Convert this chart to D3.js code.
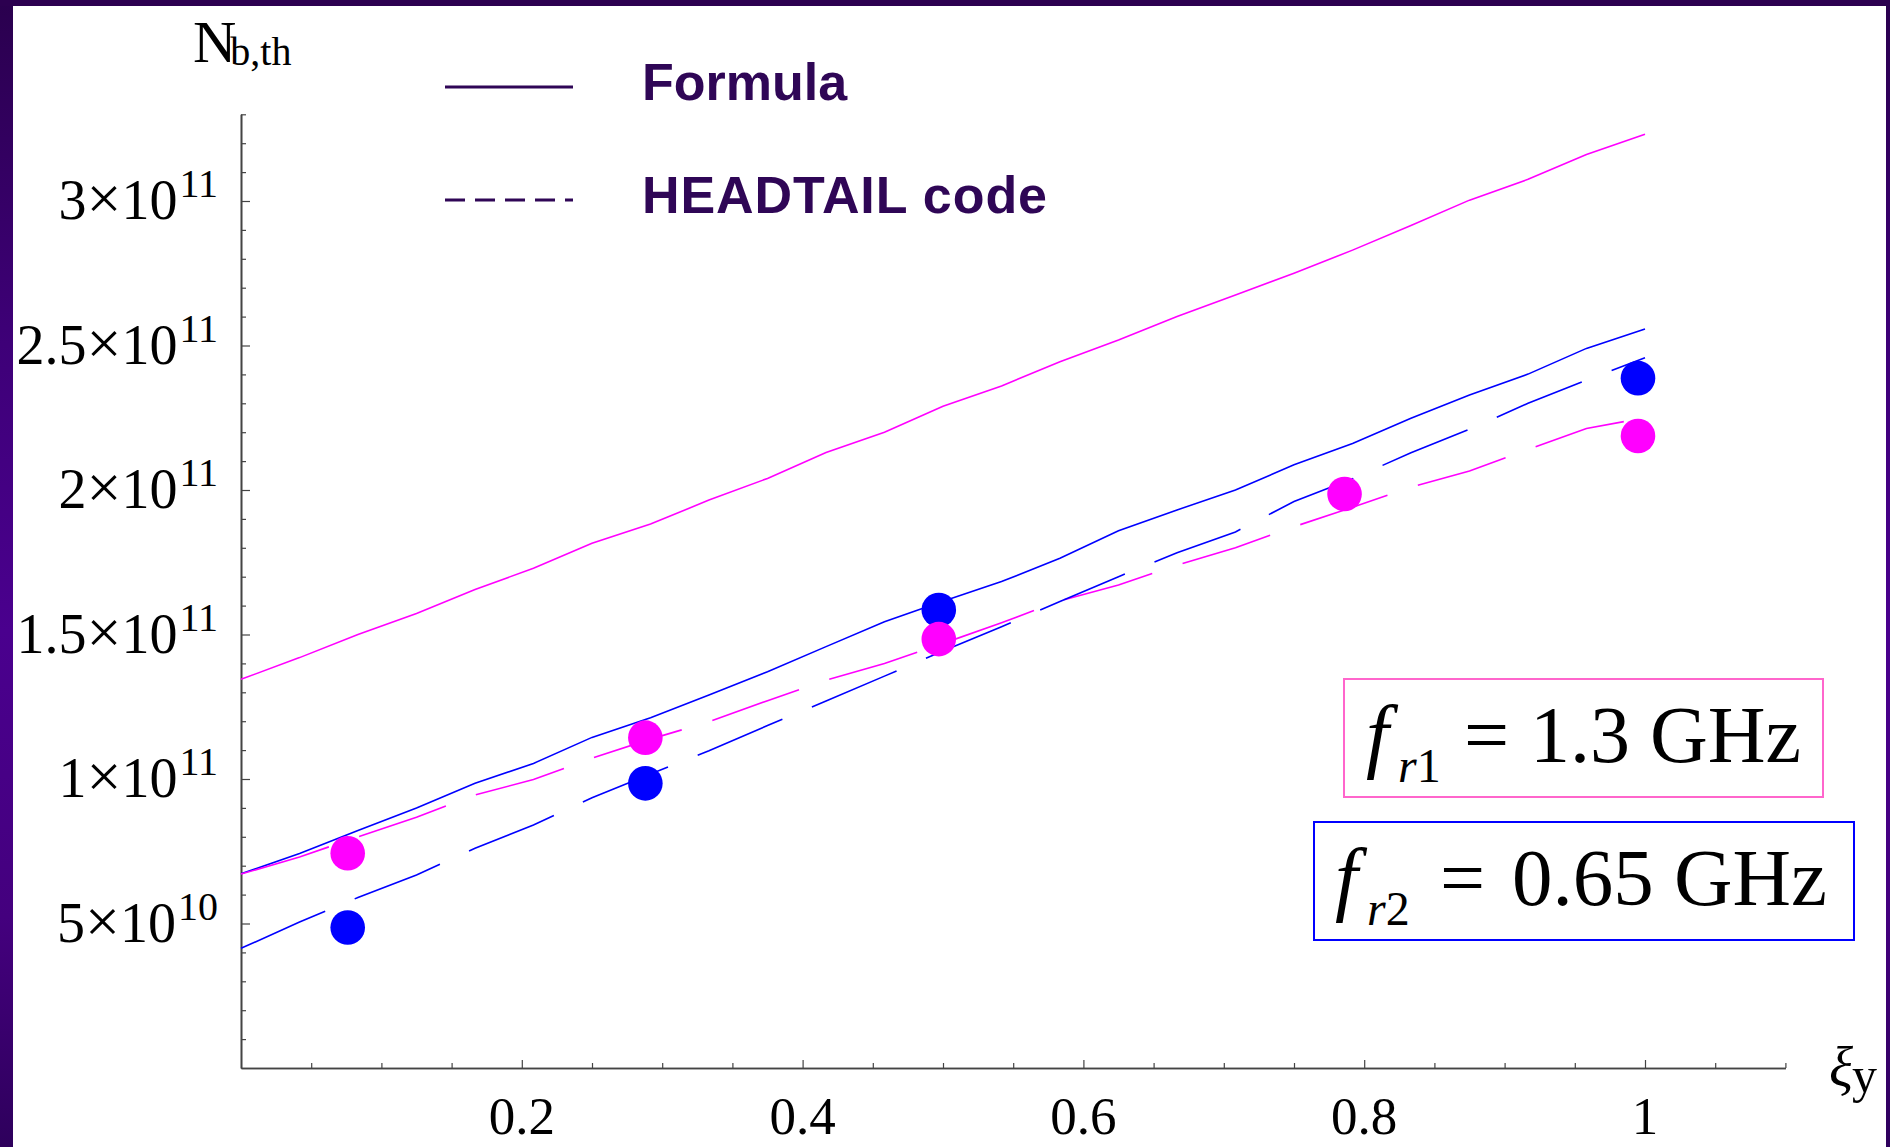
<!DOCTYPE html>
<html><head><meta charset="utf-8">
<script src="https://cdn.jsdelivr.net/npm/d3@7"></script>
<style>html,body{margin:0;padding:0;background:#fff;overflow:hidden}</style>
</head><body>
<svg id="c" width="1890" height="1147"></svg>
<script>
// ---------- data (N values in units of 1e11) ----------
const xiGrid = [0,0.0417,0.0833,0.125,0.1667,0.2083,0.25,0.2917,0.3333,0.375,0.4167,0.4583,0.5,0.5417,0.5833,0.625,0.6667,0.7083,0.75,0.7917,0.8333,0.875,0.9167,0.9583,1];
const formulaFr1  = [1.345,1.42,1.50,1.573,1.656,1.729,1.816,1.882,1.965,2.04,2.13,2.20,2.29,2.36,2.444,2.519,2.60,2.675,2.75,2.83,2.915,3.003,3.075,3.161,3.231];
const formulaFr2  = [0.672,0.742,0.822,0.90,0.985,1.054,1.144,1.212,1.291,1.371,1.458,1.544,1.615,1.683,1.764,1.859,1.931,2.0,2.087,2.161,2.248,2.329,2.401,2.490,2.557];
const headtailFr1 = [0.671,0.73,0.80,0.868,0.945,0.998,1.072,1.138,1.198,1.271,1.342,1.40,1.469,1.541,1.616,1.671,1.74,1.80,1.873,1.94,2.01,2.066,2.14,2.213,2.25];
const headtailFr2 = [0.414,0.505,0.59,0.668,0.76,0.841,0.935,1.017,1.098,1.185,1.27,1.356,1.443,1.527,1.614,1.70,1.783,1.855,1.96,2.039,2.129,2.21,2.30,2.38,2.458];
const simXiFr1 = [0.076,0.288,0.497,0.786,0.995];
const simNFr1  = [0.743,1.143,1.484,1.986,2.187];
const simXiFr2 = [0.076,0.288,0.497,0.995];
const simNFr2  = [0.486,0.985,1.585,2.387];
const yMajorTicks = [0.5,1,1.5,2,2.5,3];
const yTickMantissa = ["5","1","1.5","2","2.5","3"];
const yTickExponent = ["10","11","11","11","11","11"];
const yMinorTicks = [0.1,0.2,0.3,0.4,0.6,0.7,0.8,0.9,1.1,1.2,1.3,1.4,1.6,1.7,1.8,1.9,2.1,2.2,2.3,2.4,2.6,2.7,2.8,2.9,3.1,3.2,3.3];
const xMajorTicks = [0.2,0.4,0.6,0.8,1];
const xTickLabels = ["0.2","0.4","0.6","0.8","1"];
const xMinorTicks = [0.05,0.1,0.15,0.25,0.3,0.35,0.45,0.5,0.55,0.65,0.7,0.75,0.85,0.9,0.95,1.05,1.1];
const legendLabels = ["Formula","HEADTAIL code"];
const legendDash = [null,"20,10"];

// ---------- setup ----------
const svg = d3.select("#c");
const serif = "'Liberation Serif','Times New Roman',serif";
const sans = "'Liberation Sans',Arial,sans-serif";
const purple = "#2f0656";
const pink = "#ff00ff", blue = "#0000ff";

const x = d3.scaleLinear().domain([0,1.1]).range([241,1785.4]);
const y = d3.scaleLinear().domain([0,3.3]).range([1068,114.3]);

// frame
const defs = svg.append("defs");
const g1 = defs.append("linearGradient").attr("id","side").attr("x1",0).attr("y1",0).attr("x2",0).attr("y2",1);
[["0%","#2a004e"],["30%","#3e0078"],["55%","#4a008e"],["80%","#44007e"],["100%","#2e005c"]]
  .forEach(s=>g1.append("stop").attr("offset",s[0]).attr("stop-color",s[1]));
svg.append("rect").attr("x",0).attr("y",0).attr("width",13).attr("height",1147).attr("fill","url(#side)");
svg.append("rect").attr("x",1886).attr("y",0).attr("width",4).attr("height",1147).attr("fill","url(#side)");
svg.append("rect").attr("x",0).attr("y",0).attr("width",1890).attr("height",6).attr("fill","#2c0050");

// ---------- axes ----------
const axCol = "#444";
const yAxisMajor = svg.append("g").attr("transform",`translate(${x(0)},0)`)
  .call(d3.axisLeft(y).tickValues(yMajorTicks).tickSizeInner(-9).tickSizeOuter(0).tickFormat(""));
const yAxisMinor = svg.append("g").attr("transform",`translate(${x(0)},0)`)
  .call(d3.axisLeft(y).tickValues(yMinorTicks).tickSizeInner(-5).tickSizeOuter(0).tickFormat(""));
const xAxisMajor = svg.append("g").attr("transform",`translate(0,${y(0)})`)
  .call(d3.axisBottom(x).tickValues(xMajorTicks).tickSizeInner(-8).tickSizeOuter(0).tickFormat(""));
const xAxisMinor = svg.append("g").attr("transform",`translate(0,${y(0)})`)
  .call(d3.axisBottom(x).tickValues(xMinorTicks).tickSizeInner(-5).tickSizeOuter(0).tickFormat(""));
[yAxisMajor,yAxisMinor,xAxisMajor,xAxisMinor].forEach(a=>{
  a.selectAll("path.domain").attr("stroke",axCol).attr("stroke-width",1.6);
  a.selectAll(".tick line").attr("stroke",axCol).attr("stroke-width",1.2);
});

// y tick labels
const yl = svg.append("g").selectAll("text").data(yMajorTicks).join("text")
  .attr("x",218).attr("y",d=>y(d)+18).attr("text-anchor","end")
  .attr("font-family",serif).attr("font-size",56).attr("fill","#000");
yl.append("tspan").text((d,i)=>yTickMantissa[i]);
yl.append("tspan").attr("font-size",62).text("\u00d7");
yl.append("tspan").text("10");
yl.append("tspan").attr("font-size",40).attr("dx",2).attr("dy",-22).text((d,i)=>yTickExponent[i]);

// x tick labels
svg.append("g").selectAll("text").data(xMajorTicks).join("text")
  .attr("x",d=>x(d)).attr("y",1134).attr("text-anchor","middle")
  .attr("font-family",serif).attr("font-size",53).attr("fill","#000")
  .text((d,i)=>xTickLabels[i]);

// axis titles
const nt = svg.append("text").attr("x",193).attr("y",62).attr("font-family",serif).attr("fill","#000");
nt.append("tspan").attr("font-size",60).text("N");
nt.append("tspan").attr("font-size",40).attr("dx",-6).attr("dy",3).text("b,th");

const xt = svg.append("text").attr("x",1829).attr("y",1086).attr("font-family",serif).attr("fill","#000");
xt.append("tspan").attr("font-size",56).attr("font-style","italic").text("\u03be");
xt.append("tspan").attr("font-size",50).attr("dx",-1).attr("dy",6).text("y");

// ---------- lines ----------
const line = d3.line().x(d=>x(d[0])).y(d=>y(d[1]));
const series = [
  {vals:formulaFr1, color:pink, dash:null},
  {vals:formulaFr2, color:blue, dash:null},
  {vals:headtailFr1, color:pink, dash:"92,32"},
  {vals:headtailFr2, color:blue, dash:"92,32"}
];
svg.append("g").selectAll("path").data(series).join("path")
  .attr("d",s=>line(xiGrid.map((xi,i)=>[xi,s.vals[i]])))
  .attr("fill","none").attr("stroke",s=>s.color).attr("stroke-width",1.6)
  .attr("stroke-dasharray",s=>s.dash);

// ---------- simulation points ----------
svg.append("g").selectAll("circle").data(simXiFr2.map((xi,i)=>[xi,simNFr2[i]])).join("circle")
  .attr("cx",d=>x(d[0])).attr("cy",d=>y(d[1])).attr("r",17.3).attr("fill",blue);
svg.append("g").selectAll("circle").data(simXiFr1.map((xi,i)=>[xi,simNFr1[i]])).join("circle")
  .attr("cx",d=>x(d[0])).attr("cy",d=>y(d[1])).attr("r",17.3).attr("fill",pink);

// ---------- legend ----------
const lg = svg.append("g").selectAll("g").data(legendLabels).join("g")
  .attr("transform",(d,i)=>`translate(0,${i*113})`);
lg.append("line").attr("x1",445).attr("x2",573).attr("y1",87).attr("y2",87)
  .attr("stroke",purple).attr("stroke-width",3).attr("stroke-dasharray",(d,i)=>legendDash[i]);
lg.append("text").attr("x",642).attr("y",100).attr("font-family",sans).attr("font-weight","bold")
  .attr("font-size",52).attr("fill",purple).text(d=>d)
  .each(function(d,i){ if(i===1) d3.select(this).attr("textLength",405).attr("lengthAdjust","spacing"); });

// ---------- frequency boxes ----------
svg.append("rect").attr("x",1344).attr("y",679).attr("width",479).attr("height",118)
  .attr("fill","none").attr("stroke","#ff66cc").attr("stroke-width",2);
svg.append("rect").attr("x",1314).attr("y",822).attr("width",540).attr("height",118)
  .attr("fill","none").attr("stroke",blue).attr("stroke-width",2);

function freqLabel(fx, base, subx, sub, eqx, valx, val, vsize){
  const g = svg.append("g").attr("font-family",serif).attr("fill","#000");
  g.append("text").attr("x",fx).attr("y",base).attr("font-size",82).attr("font-style","italic").text("f");
  const s = g.append("text").attr("x",subx).attr("y",base+20).attr("font-size",48);
  s.append("tspan").attr("font-style","italic").text("r");
  s.append("tspan").text(sub);
  g.append("text").attr("x",eqx).attr("y",base).attr("font-size",80).text("=");
  g.append("text").attr("x",valx).attr("y",base).attr("font-size",vsize).text(val);
}
freqLabel(1366, 762, 1398, "1", 1464, 1530, "1.3 GHz", 80);
freqLabel(1335, 905, 1367, "2", 1440, 1512, "0.65 GHz", 81);
</script>
</body></html>
